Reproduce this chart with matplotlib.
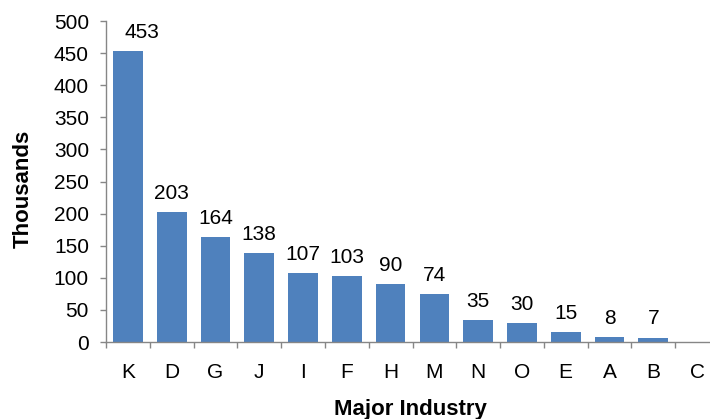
import matplotlib
matplotlib.use("Agg")
import matplotlib.pyplot as plt
import numpy as np

plt.rcParams['font.family'] = ['Liberation Sans', 'DejaVu Sans']

categories = ["K", "D", "G", "J", "I", "F", "H", "M", "N", "O", "E", "A", "B", "C"]
values = [453, 203, 164, 138, 107, 103, 90, 74, 35, 30, 15, 8, 7, 0]
yticks = [0, 50, 100, 150, 200, 250, 300, 350, 400, 450, 500]

W, H = 710, 419
fig = plt.figure(figsize=(W / 100, H / 100), dpi=100)
ax = fig.add_axes([106 / W, 1 - 342 / H, 613 / W, 321 / H])

x = np.arange(len(categories))
ax.bar(x, values, width=0.68, color="#4F81BD", zorder=2)
for i, (xi, v) in enumerate(zip(x, values)):
    if v > 0:
        dx = 10 if i == 0 else 0  # top label nudged right, as in the reference
        ax.annotate(str(v), (xi, v), xytext=(dx, 6.5), textcoords="offset points",
                    ha="center", va="bottom", fontsize=15, color="black",
                    annotation_clip=False)

ax.set_xlim(-0.5, len(categories) - 0.5)
ax.set_ylim(0, 500)
ax.set_yticks(yticks)
ax.tick_params(axis='y', labelsize=15, length=4.3, color="#868686", width=1, pad=8)
ax.set_xticks(x)
ax.set_xticklabels(categories)
ax.tick_params(axis='x', which='major', length=0, labelsize=15, pad=15)
ax.set_xticks(np.arange(len(categories) + 1) - 0.5, minor=True)
ax.tick_params(axis='x', which='minor', length=4.3, color="#868686", width=1)

for s in ["top", "right"]:
    ax.spines[s].set_visible(False)
for s in ["left", "bottom"]:
    ax.spines[s].set_color("#868686")
    ax.spines[s].set_linewidth(1)

fig.text(23 / W, 1 - 189 / H, "Thousands", rotation=90, ha="center", va="center",
         fontsize=16, fontweight="bold")
fig.text(410 / W, 1 - 415 / H, "Major Industry", ha="center", va="baseline",
         fontsize=16, fontweight="bold")

fig.savefig("out.png", dpi=100)
